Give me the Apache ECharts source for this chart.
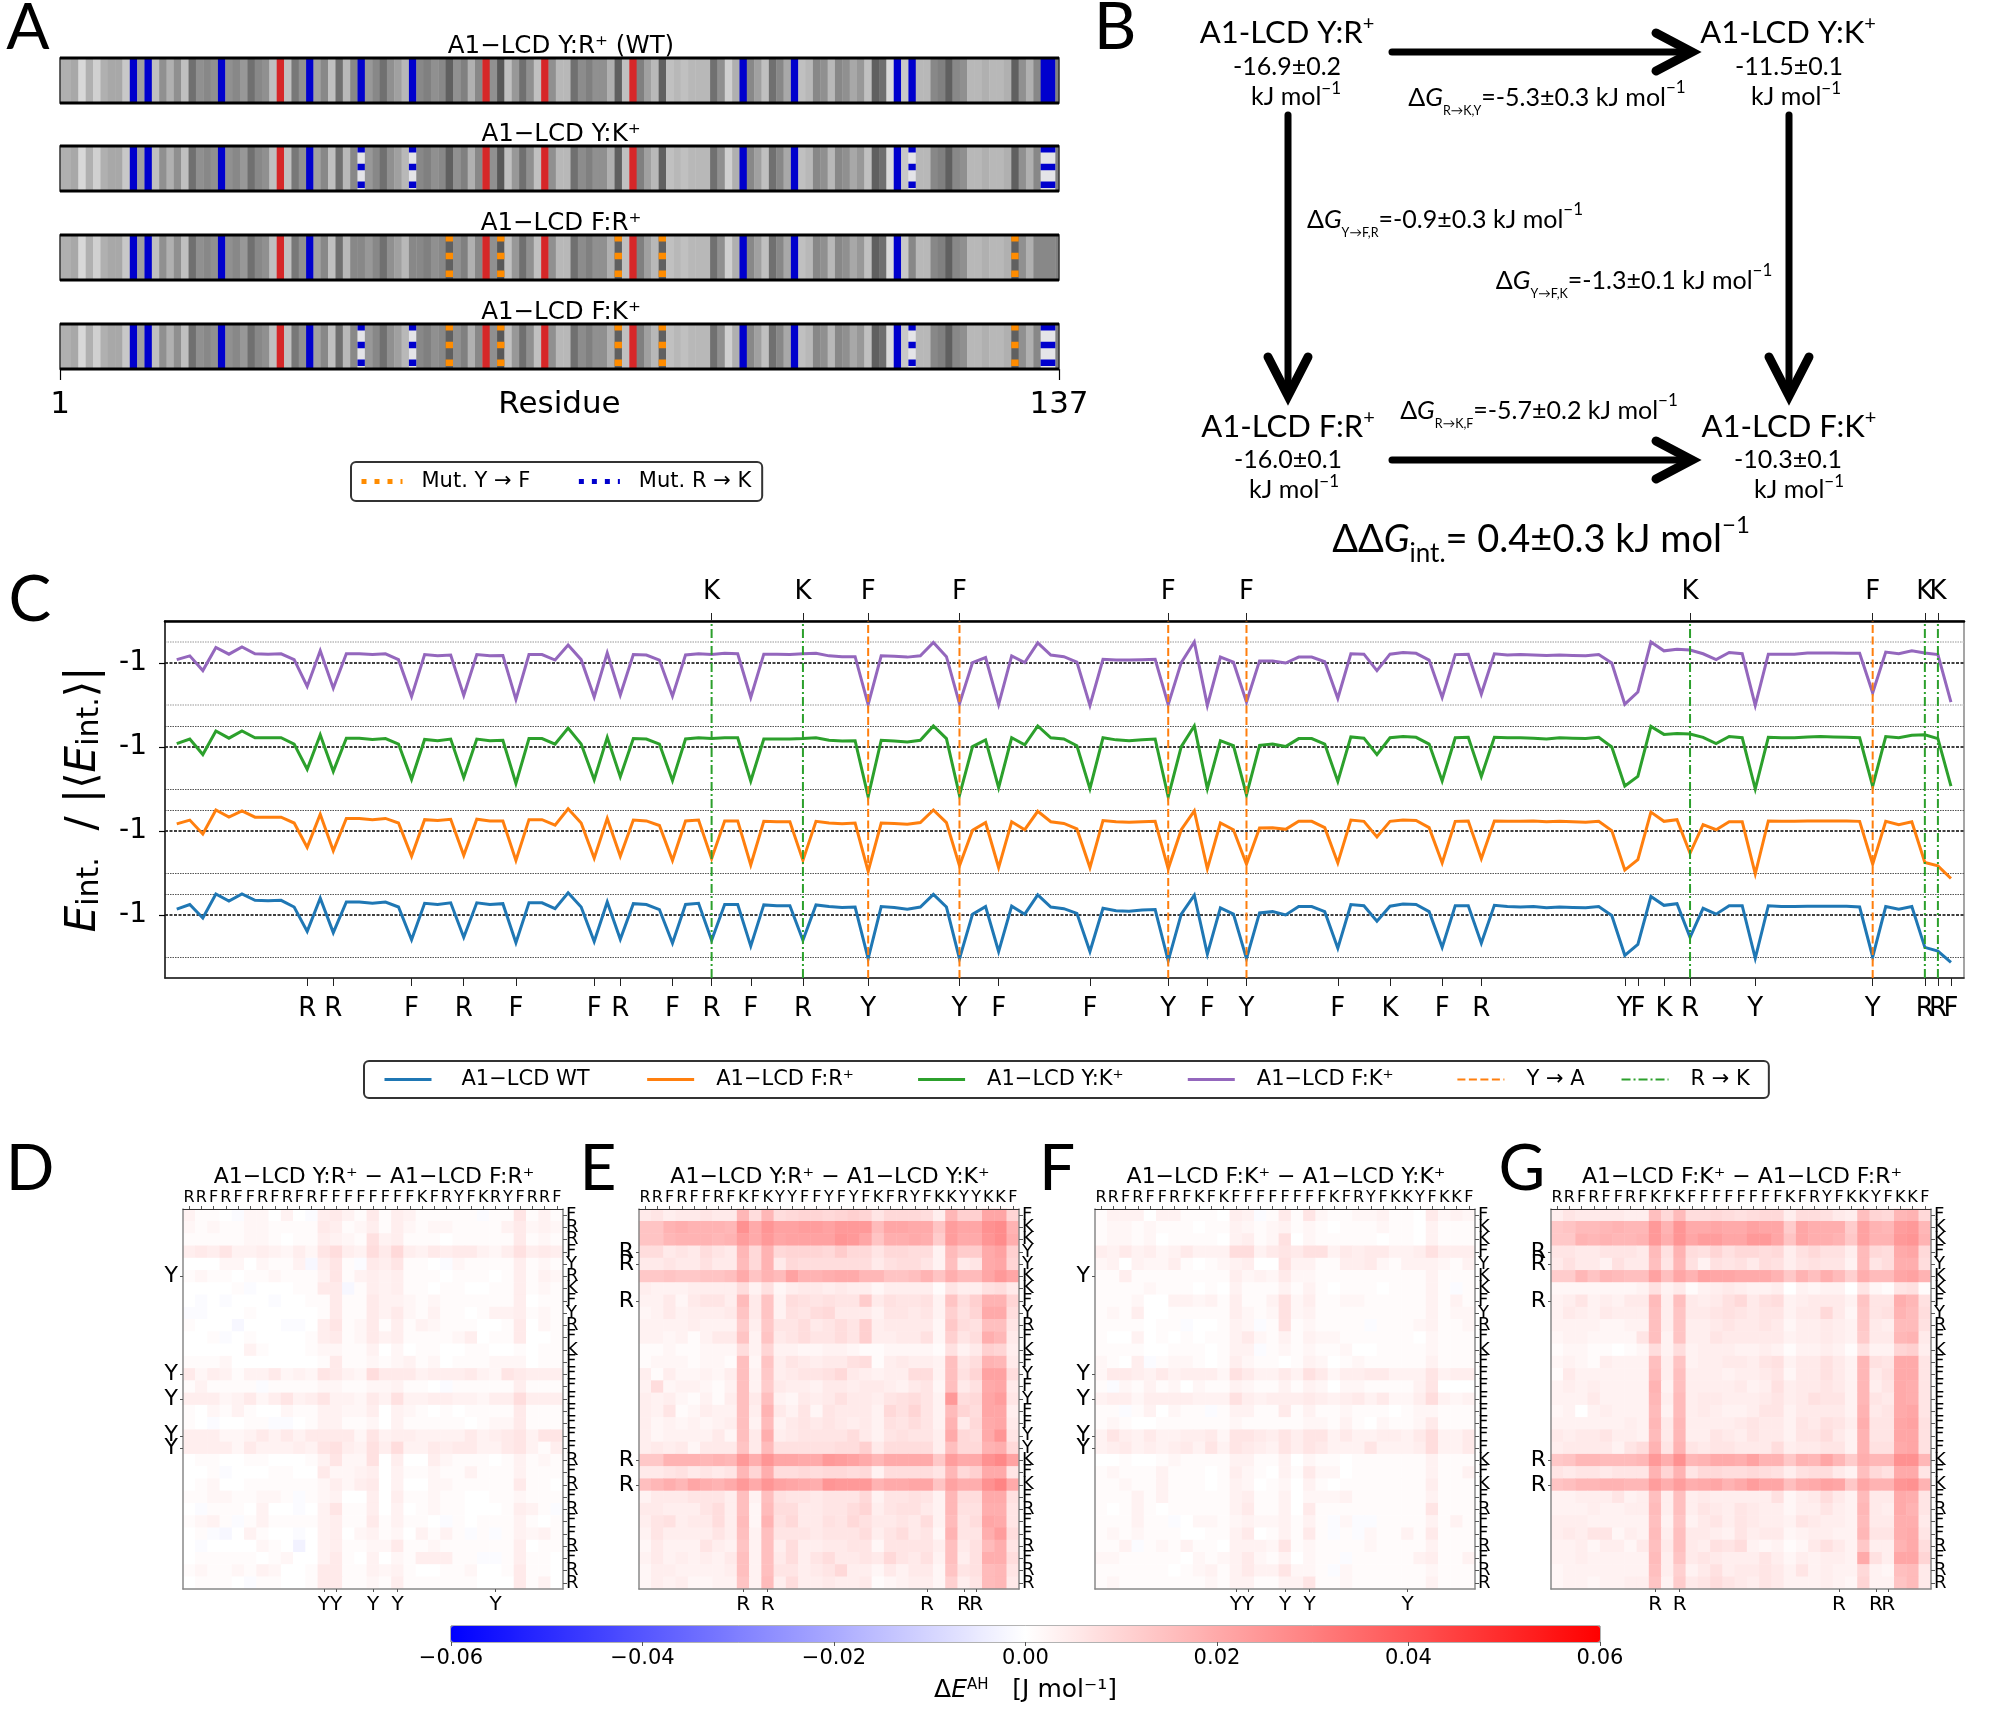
<!DOCTYPE html>
<html><head><meta charset="utf-8">
<script src="https://cdn.jsdelivr.net/npm/echarts@6/dist/echarts.min.js"></script>
<style>html,body{margin:0;padding:0;background:#fff}#c{width:2000px;height:1713px}</style>
</head><body><div id="c"></div>
<script>
// ---------- Panel A data ----------
const GRAY=[176,176,168,216,176,208,176,168,168,200,136,160,136,192,144,176,144,192,112,144,136,144,136,144,136,152,112,136,144,192,136,192,120,144,136,160,136,192,112,184,136,136,152,136,112,144,160,184,136,136,128,144,136,96,144,128,176,136,136,144,88,192,152,112,144,192,136,144,184,184,112,140,128,144,144,176,96,192,136,128,160,184,96,192,184,192,184,184,184,112,144,208,176,136,136,160,192,112,136,168,136,192,184,136,144,184,136,144,168,152,192,96,112,220,136,200,136,184,184,136,128,96,136,144,184,184,176,184,184,176,96,144,176,136,136,136,128];
const RESIDUE_TICKS=['1','137'];
const CHARGED_SITES=[10,12,22,34,41,48,93,100,114,116,134,135];
const ACIDIC_SITES=[30,58,66,78];
const SITES_RK=[41,48,116,134,135];
const SITES_YF=[53,60,76,82,130];
const ROW_TITLES=['A1−LCD Y:R⁺ (WT)','A1−LCD Y:K⁺','A1−LCD F:R⁺','A1−LCD F:K⁺'];

// ---------- Panel C data ----------
const E_WT=[-0.86,-0.75,-1.07,-0.50,-0.67,-0.50,-0.65,-0.66,-0.65,-0.81,-1.39,-0.60,-1.42,-0.69,-0.69,-0.72,-0.69,-0.81,-1.59,-0.72,-0.75,-0.71,-1.53,-0.71,-0.75,-0.73,-1.66,-0.71,-0.71,-0.85,-0.47,-0.81,-1.63,-0.69,-1.58,-0.73,-0.75,-0.87,-1.67,-0.75,-0.72,-1.60,-0.75,-0.75,-1.74,-0.76,-0.78,-0.78,-1.60,-0.76,-0.80,-0.82,-0.81,-2.04,-0.80,-0.82,-0.86,-0.81,-0.51,-0.81,-2.04,-0.98,-0.80,-1.87,-0.79,-0.98,-0.52,-0.81,-0.85,-0.96,-1.87,-0.84,-0.90,-0.91,-0.88,-0.87,-2.09,-0.98,-0.53,-1.93,-0.83,-0.98,-2.04,-0.95,-0.92,-1.00,-0.80,-0.80,-0.92,-1.79,-0.75,-0.78,-1.15,-0.79,-0.74,-0.75,-0.92,-1.77,-0.78,-0.78,-1.67,-0.77,-0.80,-0.81,-0.80,-0.83,-0.81,-0.82,-0.83,-0.80,-1.01,-1.96,-1.70,-0.56,-0.77,-0.73,-1.53,-0.84,-0.98,-0.78,-0.78,-2.03,-0.78,-0.80,-0.80,-0.79,-0.79,-0.79,-0.79,-0.81,-2.00,-0.80,-0.86,-0.80,-1.77,-1.86,-2.13];
const E_FR=[-0.83,-0.74,-1.07,-0.50,-0.67,-0.52,-0.67,-0.67,-0.67,-0.81,-1.39,-0.60,-1.47,-0.70,-0.70,-0.73,-0.70,-0.81,-1.60,-0.73,-0.75,-0.72,-1.58,-0.72,-0.76,-0.76,-1.70,-0.73,-0.73,-0.86,-0.47,-0.81,-1.65,-0.70,-1.60,-0.74,-0.76,-0.87,-1.70,-0.76,-0.74,-1.66,-0.76,-0.76,-1.81,-0.77,-0.78,-0.78,-1.70,-0.77,-0.81,-0.83,-0.81,-1.96,-0.81,-0.82,-0.84,-0.80,-0.50,-0.80,-1.83,-0.98,-0.80,-1.87,-0.78,-0.97,-0.53,-0.78,-0.82,-0.95,-1.87,-0.75,-0.78,-0.79,-0.78,-0.77,-1.90,-0.97,-0.52,-1.90,-0.81,-0.97,-1.79,-0.93,-0.92,-0.96,-0.77,-0.77,-0.92,-1.76,-0.74,-0.77,-1.14,-0.77,-0.74,-0.75,-0.92,-1.76,-0.77,-0.76,-1.66,-0.76,-0.77,-0.77,-0.76,-0.78,-0.77,-0.78,-0.79,-0.77,-0.99,-1.93,-1.68,-0.55,-0.77,-0.73,-1.53,-0.85,-0.97,-0.78,-0.78,-2.02,-0.76,-0.77,-0.77,-0.76,-0.76,-0.76,-0.76,-0.77,-1.79,-0.77,-0.85,-0.78,-1.75,-1.83,-2.13];
const E_YK=[-0.92,-0.81,-1.18,-0.62,-0.79,-0.62,-0.78,-0.78,-0.78,-0.93,-1.53,-0.71,-1.58,-0.79,-0.79,-0.82,-0.80,-0.93,-1.77,-0.82,-0.85,-0.81,-1.73,-0.81,-0.85,-0.84,-1.87,-0.80,-0.80,-0.93,-0.55,-0.93,-1.78,-0.77,-1.71,-0.80,-0.81,-0.93,-1.80,-0.81,-0.78,-0.80,-0.78,-0.78,-1.81,-0.81,-0.81,-0.81,-0.80,-0.78,-0.84,-0.86,-0.85,-2.18,-0.84,-0.86,-0.88,-0.84,-0.50,-0.80,-2.15,-0.99,-0.83,-1.97,-0.78,-0.95,-0.50,-0.78,-0.81,-0.97,-1.99,-0.78,-0.83,-0.85,-0.83,-0.81,-2.19,-0.99,-0.50,-1.99,-0.85,-0.97,-2.14,-0.96,-0.93,-0.99,-0.80,-0.80,-0.93,-1.82,-0.76,-0.79,-1.18,-0.78,-0.75,-0.77,-0.93,-1.81,-0.78,-0.77,-1.70,-0.77,-0.78,-0.78,-0.79,-0.81,-0.78,-0.79,-0.80,-0.77,-1.00,-1.93,-1.70,-0.51,-0.70,-0.68,-0.69,-0.77,-0.92,-0.75,-0.78,-2.00,-0.77,-0.78,-0.78,-0.76,-0.75,-0.76,-0.77,-0.78,-1.93,-0.75,-0.78,-0.72,-0.71,-0.80,-1.93];
const E_FK=[-0.92,-0.83,-1.18,-0.63,-0.79,-0.62,-0.78,-0.79,-0.78,-0.92,-1.56,-0.71,-1.60,-0.78,-0.78,-0.80,-0.78,-0.92,-1.80,-0.80,-0.83,-0.81,-1.77,-0.80,-0.83,-0.82,-1.87,-0.80,-0.80,-0.93,-0.57,-0.92,-1.81,-0.76,-1.76,-0.80,-0.81,-0.93,-1.79,-0.81,-0.78,-0.80,-0.77,-0.78,-1.82,-0.79,-0.79,-0.80,-0.78,-0.77,-0.83,-0.85,-0.85,-1.99,-0.83,-0.84,-0.86,-0.83,-0.51,-0.85,-1.97,-0.99,-0.87,-1.99,-0.83,-0.99,-0.52,-0.81,-0.85,-0.98,-2.01,-0.91,-0.93,-0.93,-0.92,-0.91,-1.99,-0.99,-0.50,-2.01,-0.86,-0.98,-1.93,-0.95,-0.95,-1.00,-0.86,-0.86,-0.97,-1.84,-0.78,-0.79,-1.18,-0.79,-0.75,-0.77,-0.93,-1.82,-0.80,-0.79,-1.74,-0.78,-0.81,-0.80,-0.81,-0.82,-0.81,-0.82,-0.83,-0.80,-1.00,-1.98,-1.69,-0.50,-0.71,-0.67,-0.69,-0.78,-0.92,-0.75,-0.78,-2.01,-0.79,-0.79,-0.79,-0.76,-0.76,-0.76,-0.77,-0.77,-1.71,-0.74,-0.78,-0.71,-0.76,-0.80,-1.93];
const SERIES_NAMES=['A1−LCD WT','A1−LCD F:R⁺','A1−LCD Y:K⁺','A1−LCD F:K⁺'];
const SITES_YA=[53,60,76,82,130];
const SITES_RK_C=[41,48,116,134,135];
const TICKS_BOTTOM={10:'R',12:'R',18:'F',22:'R',26:'F',32:'F',34:'R',38:'F',41:'R',44:'F',48:'R',53:'Y',60:'Y',63:'F',70:'F',76:'Y',79:'F',82:'Y',89:'F',93:'K',97:'F',100:'R',111:'Y',112:'F',114:'K',116:'R',121:'Y',130:'Y',134:'R',135:'R',136:'F'};
const TICKS_TOP={41:'K',48:'K',53:'F',60:'F',76:'F',82:'F',116:'K',130:'F',134:'K',135:'K'};

// ---------- Heatmap data (units of 0.001 J/mol) ----------
const HM_D=[
[3,1,1,0,-1,2,2,0,3,0,-1,4,5,3,1,5,1,4,3,1,1,1,1,1,-1,1,1,6,1,3,1],
[2,1,2,1,1,2,2,1,1,1,1,5,4,1,2,4,1,4,2,1,2,2,1,1,1,1,3,5,2,3,2],
[1,1,1,1,1,2,2,1,0,1,1,4,3,2,1,7,3,4,1,1,1,0,1,1,1,1,1,5,1,2,1],
[4,5,4,6,3,3,4,3,2,4,2,6,8,4,3,8,5,9,4,3,5,4,5,5,3,2,4,7,4,5,4],
[0,0,0,2,2,0,2,1,1,3,-2,4,6,1,-1,5,4,6,1,1,0,-1,2,1,1,1,1,4,1,2,1],
[1,2,1,1,0,1,1,2,1,1,1,3,6,1,3,4,3,4,1,1,1,0,1,1,1,0,1,4,1,3,2],
[0,0,0,0,1,-1,0,0,0,1,1,5,5,-2,1,4,3,4,1,1,0,1,1,0,0,1,1,4,1,2,1],
[0,-1,0,-1,0,0,0,-1,0,0,1,1,5,1,1,5,3,3,2,1,2,1,1,1,1,1,1,4,0,1,1],
[-1,-1,0,0,0,1,0,0,0,0,0,1,5,1,1,5,3,5,2,1,3,1,1,0,1,3,3,4,1,2,1],
[1,0,0,0,-2,0,0,0,-1,-1,0,4,6,1,2,5,1,4,1,3,2,1,1,1,0,0,1,5,0,2,1],
[0,0,1,-1,0,1,0,0,0,0,1,4,5,1,2,5,3,4,1,1,1,1,2,4,0,1,1,5,0,0,1],
[0,0,0,0,0,3,1,0,0,0,1,2,2,1,1,3,0,2,0,1,1,0,0,1,1,0,0,1,0,1,1],
[1,1,1,2,0,0,0,0,0,0,0,1,5,1,1,2,1,2,3,1,2,0,1,1,1,2,2,2,0,1,1],
[5,2,4,3,1,3,3,5,2,3,2,6,5,3,2,8,5,5,5,3,4,4,4,5,3,2,6,5,4,4,4],
[1,3,1,1,1,1,-1,1,1,1,1,2,2,1,1,2,2,3,1,1,0,-1,1,1,1,1,1,4,1,1,1],
[4,4,4,2,3,5,2,4,6,3,4,6,3,3,2,5,3,7,3,3,4,4,3,3,2,4,4,8,4,4,4],
[1,0,2,1,3,1,0,0,2,1,1,3,3,2,2,4,0,3,2,1,0,1,0,1,1,1,1,5,1,1,1],
[1,0,-1,0,0,1,1,-1,-1,0,1,3,3,1,1,2,0,3,1,1,1,1,1,0,1,2,2,5,1,1,1],
[4,4,4,2,2,3,5,3,5,3,5,5,5,5,2,6,3,4,4,3,3,3,3,5,3,4,5,6,3,6,6],
[4,4,4,4,2,5,3,3,3,4,3,6,7,4,3,7,4,8,3,3,5,4,5,5,3,3,5,6,3,1,4],
[0,1,1,0,0,1,1,0,0,0,1,3,6,2,2,7,0,4,0,0,4,2,1,1,1,0,1,3,1,2,1],
[0,0,1,-1,0,0,0,1,1,0,0,5,2,2,3,4,0,3,1,1,2,1,1,3,1,1,1,3,1,1,1],
[0,1,2,0,0,1,1,1,1,1,1,2,4,2,4,5,0,3,0,0,2,2,1,1,1,1,1,5,1,1,0],
[1,1,2,2,1,1,2,2,1,-1,1,2,3,0,0,4,0,4,1,1,2,1,1,0,0,1,1,2,1,1,1],
[0,-1,1,1,1,0,3,0,0,-1,0,3,6,1,1,4,0,3,0,1,2,1,1,0,0,0,1,4,3,1,-1],
[1,2,3,1,-1,1,3,1,1,1,1,3,4,1,1,5,1,3,1,1,0,-1,1,0,1,1,1,3,1,0,1],
[0,1,-1,-2,0,3,1,0,0,-1,0,3,4,0,2,3,1,2,0,3,1,3,1,-1,1,-1,1,3,2,3,1],
[0,-1,0,0,0,0,2,1,0,-3,0,3,4,1,1,2,2,5,1,1,2,1,1,1,1,1,1,4,0,1,1],
[0,1,1,1,1,1,0,1,2,0,0,3,5,1,0,3,0,2,1,4,4,4,1,1,-1,-1,1,4,1,1,0],
[1,2,1,1,2,1,3,2,0,0,1,5,5,1,1,3,2,3,1,0,0,1,1,2,0,0,1,5,1,1,0],
[0,1,1,1,0,-1,1,1,0,0,1,5,5,1,1,2,1,4,1,1,1,1,1,1,0,0,0,5,1,3,0]];
const HM_E=[
[5,6,4,5,5,6,5,5,17,8,17,8,9,10,10,9,10,11,10,6,9,9,9,8,4,17,11,11,21,21,10],
[14,14,18,19,18,18,18,17,26,20,25,22,22,23,23,22,24,24,24,16,21,21,20,20,14,23,21,21,26,27,18],
[14,14,17,18,18,18,17,18,23,20,24,21,22,22,22,22,25,24,21,14,19,19,20,19,12,23,20,20,25,27,19],
[8,8,5,6,5,8,6,5,17,9,18,9,10,10,10,9,12,9,9,6,9,9,8,8,3,16,12,12,20,22,11],
[5,5,6,5,5,7,5,5,16,9,18,5,9,8,8,8,8,8,8,5,7,8,8,6,3,15,5,6,20,21,10],
[13,13,14,13,13,14,14,15,20,14,18,16,22,18,18,19,20,20,17,17,14,14,15,18,14,19,16,16,21,24,21],
[4,3,3,3,4,4,4,4,8,3,7,2,4,5,5,4,5,4,4,2,4,4,4,4,1,6,4,4,7,8,5],
[3,3,5,2,5,6,6,4,16,5,14,3,8,7,6,7,6,6,12,5,7,6,6,7,3,14,8,11,18,18,10],
[2,3,5,3,4,4,4,5,14,5,14,3,7,6,8,9,5,5,5,3,6,6,5,6,3,11,7,10,20,20,8],
[3,3,3,3,4,3,3,3,12,4,13,6,6,8,5,6,8,6,11,4,5,5,5,5,2,13,8,7,15,15,6],
[3,3,2,3,1,3,5,5,14,3,14,5,6,8,6,6,8,6,11,4,4,5,5,7,2,11,6,8,19,17,5],
[1,1,2,1,1,2,2,2,8,3,10,3,3,2,2,3,3,2,1,1,2,2,2,2,1,7,3,5,11,10,4],
[1,2,2,2,1,2,2,1,15,2,14,4,6,5,4,5,5,7,8,1,4,5,4,4,3,15,6,8,18,17,5],
[4,1,4,2,2,3,2,4,15,3,13,4,5,6,6,7,9,5,4,3,4,4,8,8,3,15,7,10,22,22,8],
[3,8,2,3,3,2,1,3,15,3,12,5,4,4,3,5,5,4,5,5,4,3,5,6,2,15,5,7,20,21,5],
[4,3,4,2,1,3,1,4,15,5,15,3,2,5,4,5,7,5,5,4,6,7,8,6,3,24,8,9,21,23,6],
[4,3,6,1,2,4,3,3,15,4,18,5,3,6,2,6,5,5,5,3,9,7,10,6,3,16,10,8,21,21,4],
[4,2,3,2,3,2,3,4,15,3,16,3,5,6,5,6,5,4,5,3,7,6,8,6,3,18,5,9,20,21,5],
[4,2,3,3,3,3,5,2,15,5,19,4,5,6,6,6,6,8,5,3,6,7,6,6,4,20,9,8,20,25,6],
[4,5,4,5,2,5,5,5,14,5,16,7,7,7,7,7,8,8,11,5,8,8,8,8,4,15,9,9,18,19,9],
[13,13,18,18,18,17,18,17,24,19,25,21,21,20,20,24,23,22,20,17,20,20,20,20,13,23,20,20,26,28,22],
[5,5,6,7,5,6,5,6,17,10,19,8,8,9,8,9,9,8,9,3,8,8,8,8,6,17,9,11,20,20,6],
[15,17,19,17,21,19,18,20,24,20,25,22,21,20,19,25,24,24,24,18,20,20,21,21,14,22,19,19,26,29,20],
[3,5,5,5,6,6,6,4,15,3,15,7,6,6,5,6,6,6,9,3,6,6,7,6,3,17,8,8,20,20,7],
[5,5,4,4,4,6,8,4,15,2,16,8,8,5,5,6,6,8,10,4,6,7,7,5,3,17,7,7,19,19,6],
[4,6,7,4,5,5,8,4,16,2,18,7,9,5,5,7,6,9,7,5,5,6,5,8,3,16,6,8,21,20,6],
[3,6,4,4,4,4,6,4,15,3,15,6,6,6,5,6,6,6,8,4,6,8,5,6,2,18,6,6,19,23,8],
[2,5,3,3,3,6,4,3,14,3,15,4,8,4,4,5,5,6,6,2,6,6,6,6,4,15,5,7,16,19,6],
[3,5,3,4,3,4,3,5,15,3,15,5,8,4,6,8,5,5,6,5,9,6,5,7,3,15,4,7,19,19,8],
[2,4,4,3,3,3,3,4,15,3,15,6,6,4,5,6,9,4,4,2,5,3,5,5,2,14,6,7,16,17,6],
[2,4,3,4,2,2,3,3,14,3,16,4,8,4,4,5,4,4,5,1,2,3,4,4,2,11,4,6,16,17,5]];
const HM_F=[
[1,3,3,3,0,3,3,1,1,1,0,4,3,-1,1,5,1,6,2,1,1,2,2,3,1,1,0,5,2,3,2],
[1,2,2,1,2,1,1,1,0,1,1,3,2,1,2,3,1,2,1,0,1,1,1,2,1,1,0,3,1,1,1],
[1,2,2,1,2,0,1,1,1,1,0,3,4,1,2,7,0,2,1,1,1,1,1,0,1,1,0,3,1,1,1],
[4,3,5,3,4,2,3,5,3,3,3,8,8,3,5,6,5,7,7,3,5,4,5,5,3,3,4,7,4,4,4],
[2,3,0,3,2,2,4,1,0,1,2,3,4,0,0,7,3,3,1,1,4,4,5,2,1,3,3,3,2,1,3],
[1,1,4,1,1,1,1,1,1,1,1,4,2,3,2,5,2,2,1,1,1,1,1,1,1,1,1,3,1,1,1],
[1,1,1,1,2,1,1,1,0,1,0,3,1,1,1,3,1,3,1,0,1,1,1,0,1,1,1,3,1,-1,1],
[1,1,1,2,0,0,3,3,2,3,1,4,1,1,3,7,2,4,1,1,2,2,1,1,1,1,1,3,1,3,1],
[1,2,1,4,0,0,1,1,1,1,1,4,2,1,2,7,2,3,1,1,1,1,1,1,1,1,1,3,1,2,2],
[1,1,1,1,0,1,1,-1,0,0,1,3,2,-1,1,7,1,2,1,1,1,1,-1,1,1,1,2,3,1,1,2],
[1,0,0,3,0,1,0,1,0,1,1,3,5,2,1,3,1,3,2,2,1,1,1,1,1,1,0,2,1,1,1],
[1,1,1,1,0,0,1,1,1,0,1,3,3,-1,1,2,1,2,1,1,2,0,0,1,1,1,1,2,1,1,1],
[2,1,0,4,-1,1,2,2,1,0,1,4,2,1,1,0,1,3,2,0,1,2,1,1,1,1,1,3,1,1,1],
[2,5,5,4,3,5,3,4,4,4,2,7,5,3,3,5,3,7,5,2,4,4,5,5,3,3,3,6,3,4,4],
[1,-1,2,1,3,1,2,0,2,1,1,3,2,1,1,3,1,3,2,0,2,2,1,1,1,1,3,6,0,0,0],
[3,4,4,2,4,4,4,4,3,3,3,7,4,3,4,4,4,5,4,3,4,5,3,5,2,2,4,8,3,2,3],
[1,1,-1,1,3,0,2,1,1,-1,1,3,3,1,1,5,1,3,1,1,2,1,1,1,0,1,2,2,1,1,1],
[1,2,1,0,0,1,1,1,1,1,1,2,1,1,1,1,1,2,2,1,3,1,0,2,1,1,2,5,1,1,1],
[3,6,4,3,5,3,3,4,4,5,2,6,6,5,4,6,4,6,6,3,5,3,3,4,4,3,5,8,3,3,5],
[3,4,5,3,4,3,4,5,3,6,3,6,5,4,3,6,4,6,5,3,3,3,6,3,3,3,4,8,3,3,5],
[0,0,1,0,0,1,2,1,1,1,1,3,3,1,1,3,0,2,1,1,0,1,1,1,1,1,1,3,1,1,1],
[1,2,1,1,1,3,1,1,1,0,1,4,2,1,0,3,1,5,2,2,0,1,1,1,1,1,1,3,1,1,3],
[1,1,2,1,1,3,1,1,1,0,1,3,2,0,1,2,0,3,1,0,1,1,1,1,1,1,1,4,1,1,1],
[1,1,1,3,1,3,1,1,1,1,1,3,4,1,1,3,0,2,2,2,3,1,1,1,1,1,1,3,1,1,1],
[1,0,1,3,1,0,1,1,1,1,1,3,5,1,1,3,0,5,1,1,1,1,1,1,1,1,1,6,1,1,1],
[1,1,1,3,1,1,-1,0,2,2,1,2,3,2,2,3,1,3,1,-1,2,-1,-1,1,1,1,1,3,1,3,1],
[1,2,1,2,1,1,1,0,0,1,1,3,5,0,1,3,1,5,1,-1,1,-1,2,1,1,3,1,5,1,1,1],
[1,1,3,-1,1,2,1,3,1,1,0,3,3,3,2,6,1,2,1,1,1,1,2,1,1,1,1,3,1,1,1],
[2,2,1,1,1,1,1,0,2,1,2,3,5,2,1,3,0,2,1,1,-1,1,1,1,1,1,3,4,1,1,3],
[1,1,1,1,1,1,0,1,2,3,1,3,5,3,3,6,2,2,1,-1,2,1,1,1,1,1,1,2,1,1,1],
[1,2,1,1,1,1,1,1,1,2,1,3,3,1,1,3,3,6,1,1,2,1,1,1,1,1,1,3,1,1,1]];
const HM_G=[
[4,6,5,5,5,5,4,4,15,9,16,8,8,9,8,7,8,9,9,4,8,8,7,5,4,15,10,9,17,18,9],
[13,14,16,16,17,18,17,17,24,18,25,20,20,21,20,20,22,21,21,12,21,19,19,19,12,22,18,17,23,24,17],
[13,13,18,17,18,17,17,18,24,19,25,21,23,23,21,21,24,24,21,14,21,19,19,18,13,22,18,18,24,25,18],
[6,6,5,5,6,6,6,5,16,7,18,8,7,10,7,9,9,8,9,4,7,9,7,7,4,16,9,8,20,21,9],
[5,7,5,5,3,7,5,5,15,6,17,7,3,7,6,7,5,8,7,4,6,7,6,6,3,16,6,8,19,19,8],
[12,12,17,14,17,16,15,15,22,15,21,18,22,21,21,20,20,20,18,13,18,15,19,16,11,19,16,16,21,22,18],
[2,2,2,2,2,2,2,3,7,3,5,1,3,4,5,4,3,3,4,0,3,2,3,3,0,6,2,1,6,7,1],
[3,4,6,3,4,3,5,5,16,4,15,5,4,5,7,9,5,7,8,3,4,5,5,5,3,14,6,6,19,17,7],
[3,5,4,3,5,4,4,4,15,4,14,5,5,6,7,6,5,6,6,3,5,5,9,5,2,13,6,7,18,16,8],
[3,3,3,3,2,2,3,3,15,4,14,4,4,5,6,5,5,6,5,2,4,4,5,4,3,13,5,4,16,16,7],
[2,3,3,2,2,2,2,6,15,3,14,4,4,6,5,5,5,5,5,3,4,4,5,4,3,12,5,5,17,18,5],
[1,2,2,1,1,0,1,2,8,3,8,3,4,4,4,3,3,4,3,1,3,3,4,3,1,7,3,3,10,11,4],
[2,3,2,1,4,3,3,3,15,4,14,3,4,4,5,5,4,6,7,3,5,5,7,5,3,17,7,6,20,20,6],
[1,5,3,3,3,3,3,3,16,4,15,4,4,4,3,4,4,5,6,2,5,5,7,5,3,17,5,7,20,20,6],
[3,4,3,4,3,3,3,3,18,3,15,4,4,4,4,5,3,4,7,4,5,5,6,5,3,17,4,6,20,19,6],
[3,3,3,5,3,3,3,3,17,4,16,4,5,5,4,4,4,5,6,4,5,7,6,6,3,17,6,5,20,19,6],
[2,3,0,3,4,3,3,3,16,3,16,4,5,4,3,3,4,6,6,3,5,5,5,5,3,18,5,6,20,21,6],
[3,3,3,3,3,3,4,3,17,5,17,4,4,4,4,5,6,5,5,3,6,5,7,6,4,19,6,6,21,22,7],
[5,4,5,5,6,4,4,3,16,5,17,4,4,6,5,4,6,5,5,3,6,6,8,5,3,18,6,6,21,21,7],
[4,5,5,5,5,3,6,8,18,6,18,6,5,6,6,5,5,5,8,4,5,5,6,6,3,18,7,7,20,21,7],
[13,14,17,17,16,16,16,17,24,19,26,17,18,20,20,19,22,18,18,13,18,17,21,17,12,19,17,17,26,26,17],
[6,5,6,6,5,6,6,6,18,10,18,6,9,9,8,8,9,8,7,4,7,8,8,5,3,15,9,7,20,20,6],
[14,15,17,17,18,18,17,17,23,19,23,19,20,21,18,20,23,21,21,15,19,20,22,21,13,21,18,18,25,26,18],
[3,3,4,4,4,6,3,4,15,4,15,4,5,4,4,4,4,4,7,2,4,5,8,5,3,16,5,5,20,19,6],
[3,3,3,4,3,3,4,4,16,4,15,4,6,5,4,6,5,4,4,2,4,4,6,4,3,17,5,4,20,18,6],
[4,4,4,3,3,3,3,3,15,3,14,3,5,6,4,6,5,4,4,3,6,5,4,4,3,16,5,5,19,19,5],
[4,5,4,6,6,2,4,3,16,4,15,5,5,4,3,6,4,5,5,2,3,4,4,3,3,17,6,6,19,20,6],
[3,3,4,2,4,4,2,5,15,5,15,5,4,7,6,8,3,2,3,1,2,5,7,5,3,13,4,4,18,20,8],
[3,3,4,3,3,3,3,3,16,4,14,5,6,5,4,4,4,6,4,2,4,3,4,4,3,20,7,4,21,21,10],
[2,3,3,3,3,3,3,3,15,4,11,3,5,7,4,5,5,6,5,3,6,3,4,3,3,9,3,2,15,16,5],
[2,3,3,2,3,3,4,4,14,3,12,5,6,8,6,5,4,6,5,3,3,3,4,3,2,10,3,3,14,16,5]];
const HM_TITLES=['A1−LCD Y:R⁺ − A1−LCD F:R⁺','A1−LCD Y:R⁺ − A1−LCD Y:K⁺','A1−LCD F:K⁺ − A1−LCD Y:K⁺','A1−LCD F:K⁺ − A1−LCD F:R⁺'];
const HM_TOP=['RRFRFFRFRFRFFFFFFFFKFRYFKRYFRRF','RRFRFFRFKFKYYFFYFYFKFRYFKKYYKKF','RRFRFFRFKFKFFFFFFFFKFRYFKKYFKKF','RRFRFFRFKFKFFFFFFFFKFRYFKKYFKKF'];
const HM_RIGHT=['FRRFYRKFYRFKFFFFFFFFRFRFRFFRFRR','FKKYYKKFYRFKFYFYFFYYKFKFRFFRFRR','FKKFYKKFYRFKFFFFFFFFKFKFRFFRFRR','FKKFYKKFYRFKFFFFFFFFKFKFRFFRFRR'];
const SPARSE_Y={rows:[5,13,15,18,19],cols:[11,12,15,17,25],label:'Y'};
const SPARSE_R={rows:[3,4,7,20,22],cols:[8,10,23,26,27],label:'R'};
const CBAR_MIN=-0.06, CBAR_MAX=0.06, CBAR_STEP=0.02;

// ---------- Styling / layout ----------
const DV='DejaVu Sans', LT='Lato';
const C_BLUE='#0000cd', C_RED='#d62728', C_ORANGE='#ff8c00';
const TAB=['#1f77b4','#ff7f0e','#2ca02c','#9467bd'];
const ROW_TOPS=[58,146,235,324], ROW_H=45, ROW_L=60, ROW_W=999;
const HM_LEFTS=[183,639,1095,1551], HM_TOP_PX=1209, HM_W=380, HM_H=380;
const hex=v=>`rgb(${v},${v},${v})`;

const grid=[],xAxis=[],yAxis=[],series=[],title=[];

// Panel A
function rowColors(k){
  return GRAY.map((g,i)=>{
    if(ACIDIC_SITES.includes(i))return C_RED;
    const rk=SITES_RK.includes(i);
    if(rk&&(k===1||k===3))return '#e4e4e8';
    if(rk&&k===2)return hex(136);
    if(CHARGED_SITES.includes(i))return C_BLUE;
    return hex(g);
  });
}
ROW_TOPS.forEach((top,k)=>{
  const g=grid.length;
  grid.push({left:ROW_L,top,width:ROW_W,height:ROW_H});
  const last=k===3;
  xAxis.push({gridIndex:g,type:'value',min:0,max:136,position:'bottom',
    axisLine:{show:false,onZero:false},splitLine:{show:false},
    axisTick:{show:last,length:11,lineStyle:{color:'#000',width:1.2},customValues:[0,136]},
    axisLabel:{show:last,customValues:[0,136],showMinLabel:true,showMaxLabel:true,formatter:v=>v===0?RESIDUE_TICKS[0]:RESIDUE_TICKS[1],fontSize:31,fontFamily:DV,color:'#000',margin:20},
    name:last?'Residue':'',nameLocation:'middle',nameGap:20,nameMoveOverlap:false,nameTextStyle:{fontSize:31,fontFamily:DV,color:'#000'}});
  yAxis.push({gridIndex:g,type:'value',min:0,max:1,show:false});
  const colors=rowColors(k);
  series.push({type:'custom',xAxisIndex:g,yAxisIndex:g,silent:true,z:2,
    data:GRAY.map((v,i)=>[i,v]),encode:{x:0,y:1},
    renderItem(params,api){
      const i=api.value(0);
      const p0=api.coord([i-0.5,1]),p1=api.coord([i+0.5,0]);
      const shape=echarts.graphic.clipRectByRect({x:p0[0],y:p0[1],width:p1[0]-p0[0]+0.4,height:p1[1]-p0[1]},params.coordSys);
      return shape&&{type:'rect',shape,style:{fill:colors[i]}};
    }});
  const mk=(sites,name,color)=>series.push({type:'line',name,xAxisIndex:g,yAxisIndex:g,symbol:'none',silent:true,z:3,
    data:sites.flatMap(x=>[[x,1],[x,0],['-','-']]),connectNulls:false,
    lineStyle:{color,width:7.35,type:[6.5,11.2],cap:'butt'},itemStyle:{color}});
  if(k>=2)mk(SITES_YF,'Mut. Y → F',C_ORANGE);
  if(k===1||k===3)mk(SITES_RK,'Mut. R → K',C_BLUE);
  if(k===0){ // keep legend entries available on first row
    series.push({type:'line',name:'Mut. Y → F',xAxisIndex:g,yAxisIndex:g,symbol:'none',data:[],lineStyle:{color:C_ORANGE,width:5,type:[5,8]},itemStyle:{color:C_ORANGE}});
    series.push({type:'line',name:'Mut. R → K',xAxisIndex:g,yAxisIndex:g,symbol:'none',data:[],lineStyle:{color:C_BLUE,width:5,type:[5,8]},itemStyle:{color:C_BLUE}});
  }
  series.push({type:'custom',xAxisIndex:g,yAxisIndex:g,silent:true,z:5,clip:false,data:[[0,0]],encode:{x:0,y:1},
    renderItem(params){
      const c=params.coordSys;
      return {type:'group',children:[
        {type:'rect',shape:{x:c.x,y:c.y,width:c.width,height:c.height},style:{fill:'none',stroke:'#333',lineWidth:1.5}},
        {type:'line',shape:{x1:c.x,y1:c.y,x2:c.x+c.width,y2:c.y},style:{stroke:'#000',lineWidth:3}},
        {type:'line',shape:{x1:c.x,y1:c.y+c.height,x2:c.x+c.width,y2:c.y+c.height},style:{stroke:'#000',lineWidth:3}}]};
    }});
  title.push({text:ROW_TITLES[k],left:556,top:top-16.5,textAlign:'center',textVerticalAlign:'middle',textStyle:{fontSize:24.5,fontWeight:'normal',fontFamily:DV,color:'#000'}});
});

// Panel C
const gC=grid.length;
grid.push({left:165,top:621,width:1799,height:357,show:true,borderColor:'#888',borderWidth:1.5,backgroundColor:'transparent'});
const xB=xAxis.length;
const tickKeys=o=>Object.keys(o).map(Number);
const AXIS_END=137; // empty end label keeps crowded neighbours from being culled
xAxis.push({gridIndex:gC,type:'value',min:-0.9,max:AXIS_END,position:'bottom',splitLine:{show:false},z:4,
  axisLine:{show:true,onZero:false,lineStyle:{color:'#222',width:1.5}},
  axisTick:{show:true,length:8,customValues:tickKeys(TICKS_BOTTOM),lineStyle:{color:'#222',width:1}},
  axisLabel:{customValues:[...tickKeys(TICKS_BOTTOM),AXIS_END],formatter:v=>TICKS_BOTTOM[v]||'',fontSize:26,fontFamily:DV,color:'#000',margin:18}});
xAxis.push({gridIndex:gC,type:'value',min:-0.9,max:AXIS_END,position:'top',splitLine:{show:false},z:4,
  axisLine:{show:true,onZero:false,lineStyle:{color:'#000',width:2.5}},
  axisTick:{show:true,length:8,customValues:tickKeys(TICKS_TOP),lineStyle:{color:'#222',width:1}},
  axisLabel:{customValues:[...tickKeys(TICKS_TOP),AXIS_END],formatter:v=>TICKS_TOP[v]||'',fontSize:26,fontFamily:DV,color:'#000',margin:16}});
const yC=yAxis.length;
const Y_TICKS=[-1,1,3,5];
yAxis.push({gridIndex:gC,type:'value',min:-2.5,max:6,position:'left',splitLine:{show:false},z:4,
  axisLine:{show:true,onZero:false,lineStyle:{color:'#222',width:1.5}},
  axisTick:{show:true,length:6,customValues:Y_TICKS,lineStyle:{color:'#000',width:1.2}},
  axisLabel:{customValues:Y_TICKS,showMinLabel:true,showMaxLabel:true,formatter:()=>'-1',fontSize:28,fontFamily:DV,color:'#000',margin:18},
  name:'{e|E}{s|int.}  / |⟨{e|E}{s|int.}⟩|',nameLocation:'middle',nameRotate:90,nameGap:60,nameMoveOverlap:false,
  nameTextStyle:{fontSize:42,fontFamily:DV,color:'#000',rich:{
    e:{fontSize:42,fontStyle:'italic',fontFamily:DV,color:'#000'},
    s:{fontSize:30,fontFamily:DV,color:'#000',verticalAlign:'bottom'}}}});
const levelLines=[];
Y_TICKS.forEach((v,k)=>{
  levelLines.push({yAxis:v,lineStyle:{color:'#000',width:1.5,type:[3,1.5]}});
  const c=k===3?'#bbb':'#555', w=k===3?1.5:1;
  levelLines.push({yAxis:v+0.5,lineStyle:{color:c,width:w,type:[1.5,1]}});
  levelLines.push({yAxis:v-1,lineStyle:{color:c,width:w,type:[1.5,1]}});
});
[E_WT,E_FR,E_YK,E_FK].forEach((vals,k)=>{
  series.push({type:'line',name:SERIES_NAMES[k],xAxisIndex:xB,yAxisIndex:yC,symbol:'none',z:3,silent:true,
    data:vals.map((v,i)=>[i,v+2*k]),lineStyle:{color:TAB[k],width:3,join:'miter'},itemStyle:{color:TAB[k]},
    markLine:k===0?{silent:true,symbol:'none',z:1,label:{show:false},precision:4,animation:false,data:levelLines}:undefined});
});
const vline=(sites,name,color,type)=>series.push({type:'line',name,xAxisIndex:xB,yAxisIndex:yC,symbol:'none',z:4,silent:true,
  data:sites.flatMap(x=>[[x,-2.5],[x,6],['-','-']]),lineStyle:{color,width:2,type},itemStyle:{color}});
vline(SITES_YA,'Y → A','#ff7f0e',[8,3.5]);
vline(SITES_RK_C,'R → K','#2ca02c',[9,3,2,3]);

// Heatmaps
const hmSeries=[];
const HM_MIN=-0.5, HM_MAX=30.5;
[HM_D,HM_E,HM_F,HM_G].forEach((m,k)=>{
  const g=grid.length,left=HM_LEFTS[k],sparse=k%2===0?SPARSE_Y:SPARSE_R;
  const sparseFmt=v=>Number.isInteger(v)?sparse.label:'';
  grid.push({left,top:HM_TOP_PX,width:HM_W,height:HM_H});
  const xi=xAxis.length;
  xAxis.push({gridIndex:g,type:'category',position:'top',data:HM_TOP[k].split('').map((l,i)=>i+':'+l),z:4,
    axisLine:{show:true,onZero:false,lineStyle:{color:'#333',width:1.2}},
    axisTick:{show:true,alignWithLabel:true,length:3,lineStyle:{color:'#555'}},splitLine:{show:false},
    axisLabel:{interval:0,showMinLabel:true,showMaxLabel:true,formatter:s=>s.split(':')[1],fontSize:16,fontFamily:DV,color:'#000',margin:3}});
  xAxis.push({gridIndex:g,type:'value',position:'bottom',min:HM_MIN,max:HM_MAX,z:4,splitLine:{show:false},
    axisLine:{show:true,onZero:false,lineStyle:{color:'#888',width:1.5}},
    axisTick:{show:true,length:3,customValues:sparse.cols,lineStyle:{color:'#555'}},
    axisLabel:{customValues:[HM_MIN,...sparse.cols,HM_MAX],formatter:sparseFmt,fontSize:20,fontFamily:DV,color:'#000',margin:6}});
  const yi=yAxis.length;
  yAxis.push({gridIndex:g,type:'category',position:'right',inverse:true,data:HM_RIGHT[k].split('').map((l,i)=>i+':'+l),z:4,
    axisLine:{show:true,onZero:false,lineStyle:{color:'#888',width:1.5}},
    axisTick:{show:true,alignWithLabel:true,length:4,lineStyle:{color:'#555'}},splitLine:{show:false},
    axisLabel:{interval:0,showMinLabel:true,showMaxLabel:true,formatter:s=>s.split(':')[1],fontSize:18,fontFamily:DV,color:'#000',margin:3}});
  yAxis.push({gridIndex:g,type:'value',position:'left',inverse:true,min:HM_MIN,max:HM_MAX,z:4,splitLine:{show:false},
    axisLine:{show:true,onZero:false,lineStyle:{color:'#888',width:1.5}},
    axisTick:{show:true,length:3,customValues:sparse.rows,lineStyle:{color:'#555'}},
    axisLabel:{customValues:[HM_MIN,...sparse.rows,HM_MAX],formatter:sparseFmt,fontSize:22,fontFamily:DV,color:'#000',margin:5}});
  hmSeries.push(series.length);
  series.push({type:'heatmap',xAxisIndex:xi,yAxisIndex:yi,silent:true,progressive:0,
    data:m.flatMap((row,r)=>row.map((v,c)=>[c,r,v/1000]))});
  title.push({text:HM_TITLES[k],left:left+186,top:1172,textAlign:'center',textVerticalAlign:'middle',textStyle:{fontSize:22,fontWeight:'normal',fontFamily:DV,color:'#000'}});
});

// Colour bar axis
const gB=grid.length;
grid.push({left:451,top:1626,width:1149,height:16,show:true,borderColor:'#666',borderWidth:1,backgroundColor:'transparent'});
xAxis.push({gridIndex:gB,type:'value',min:CBAR_MIN,max:CBAR_MAX,interval:CBAR_STEP,splitLine:{show:false},
  axisLine:{show:false,onZero:false},axisTick:{show:true,length:4,lineStyle:{color:'#555'}},
  axisLabel:{showMinLabel:true,showMaxLabel:true,formatter:v=>(Math.abs(v)<1e-9?0:v).toFixed(2).replace('-','−'),fontSize:21,fontFamily:DV,color:'#000',margin:6},
  name:'{d|Δ}{e|E}{u|AH}{d|   [J mol⁻¹]}',nameLocation:'middle',nameGap:36,nameMoveOverlap:false,
  nameTextStyle:{rich:{d:{fontSize:25,fontFamily:DV,color:'#000'},e:{fontSize:25,fontFamily:DV,fontStyle:'italic',color:'#000'},u:{fontSize:15,fontFamily:DV,color:'#000',verticalAlign:'top'}}}});
yAxis.push({gridIndex:gB,type:'value',min:0,max:1,show:false});

// Graphic: letters and thermodynamic cycle
const T=(x,y,text,size,extra)=>({type:'text',x,y,silent:true,z:10,style:Object.assign({text,fontSize:size,fontFamily:LT,fill:'#000',align:'center',verticalAlign:'middle'},extra||{})});
const supSub={
  s:{fontSize:12.5,fontFamily:LT,fill:'#000',color:'#000',verticalAlign:'bottom',lineHeight:38},
  i:{fontSize:26,fontFamily:LT,fontStyle:'italic',color:'#000',lineHeight:34},
  n:{fontSize:25,fontFamily:LT,color:'#000',lineHeight:34},
  u:{fontSize:17,fontFamily:LT,color:'#000',verticalAlign:'top',lineHeight:34}
};
const rT=(x,y,text)=>T(x,y,text,25,{rich:supSub});
const big={n:{fontSize:31,fontFamily:LT,color:'#000',lineHeight:38},u:{fontSize:20,fontFamily:LT,color:'#000',verticalAlign:'top',lineHeight:38}};
const nameT=(x,y,t)=>T(x,y,`{n|${t}}{u|+}`,31,{rich:big});
const val=(x,y,t)=>T(x,y,`{n|${t}}`,25,{rich:supSub});
const kj=(x,y)=>T(x,y,'{n|kJ mol}{u|−1}',25,{rich:supSub});
const arrow=(pts,head)=>[
  {type:'polyline',silent:true,z:10,shape:{points:pts},style:{stroke:'#000',fill:'none',lineWidth:7,lineCap:'round',lineJoin:'round'}},
  {type:'polyline',silent:true,z:10,shape:{points:head},style:{stroke:'#000',fill:'none',lineWidth:9,lineCap:'round',lineJoin:'miter'}}];
const ddRich={n:{fontSize:38,fontFamily:LT,color:'#000',lineHeight:46},i:{fontSize:38,fontFamily:LT,fontStyle:'italic',color:'#000',lineHeight:46},s:{fontSize:26,fontFamily:LT,color:'#000',verticalAlign:'bottom',lineHeight:54},u:{fontSize:24,fontFamily:LT,color:'#000',verticalAlign:'top',lineHeight:46}};
const graphic=[
  T(28,28,'A',64),T(1115,28,'B',66),T(30,600,'C',64),T(30,1169,'D',64),T(598,1169,'E',64),T(1057,1169,'F',64),T(1522,1169,'G',64),
  nameT(1287,33,'A1-LCD Y:R'),val(1287,67,'-16.9±0.2'),kj(1296,97),
  nameT(1788,33,'A1-LCD Y:K'),val(1789,67,'-11.5±0.1'),kj(1796,97),
  nameT(1288,427,'A1-LCD F:R'),val(1288,460,'-16.0±0.1'),kj(1294,490),
  nameT(1789,427,'A1-LCD F:K'),val(1788,460,'-10.3±0.1'),kj(1799,490),
  rT(1547,98,'{n|Δ}{i|G}{s|R→K,Y}{n|=-5.3±0.3 kJ mol}{u|−1}'),
  rT(1445,220,'{n|Δ}{i|G}{s|Y→F,R}{n|=-0.9±0.3 kJ mol}{u|−1}'),
  rT(1634,281,'{n|Δ}{i|G}{s|Y→F,K}{n|=-1.3±0.1 kJ mol}{u|−1}'),
  rT(1539,411,'{n|Δ}{i|G}{s|R→K,F}{n|=-5.7±0.2 kJ mol}{u|−1}'),
  T(1541,540,'{n|ΔΔ}{i|G}{s|int.}{n|= 0.4±0.3 kJ mol}{u|−1}',38,{rich:ddRich}),
  ...arrow([[1392,52],[1692,52]],[[1656,33],[1692,52],[1656,71]]),
  ...arrow([[1392,460],[1692,460]],[[1656,441],[1692,460],[1656,479]]),
  ...arrow([[1288,115],[1288,396]],[[1268,357],[1288,396],[1308,357]]),
  ...arrow([[1789,115],[1789,396]],[[1769,357],[1789,396],[1809,357]])
];

const NB='\u00a0';
const legendPad={[SERIES_NAMES[0]]:3,[SERIES_NAMES[1]]:4,[SERIES_NAMES[2]]:4,[SERIES_NAMES[3]]:4};
const legText=(l)=>({fontSize:21,fontFamily:DV,color:'#000',padding:[0,0,0,l]});
const legendList=[
 {show:true,left:351,top:462,selectedMode:false,orient:'horizontal',itemWidth:41,itemHeight:1,itemGap:46,
  padding:[9,11,9,8],borderColor:'#333',borderWidth:2,borderRadius:5,backgroundColor:'#fff',
  data:['Mut. Y → F','Mut. R → K'],textStyle:legText(14),
  itemStyle:{opacity:0},lineStyle:{width:5,type:[5,8]}},
 {show:true,left:364,top:1061,selectedMode:false,orient:'horizontal',itemWidth:47,itemHeight:1,itemGap:36,
  padding:[8,19,8,19],borderColor:'#333',borderWidth:2,borderRadius:5,backgroundColor:'#fff',
  itemStyle:{opacity:0},
  formatter:n=>n+NB.repeat(legendPad[n]||0),
  data:[{name:SERIES_NAMES[0],lineStyle:{width:3},textStyle:legText(25)},{name:SERIES_NAMES[1],lineStyle:{width:3},textStyle:legText(17)},{name:SERIES_NAMES[2],lineStyle:{width:3},textStyle:legText(17)},{name:SERIES_NAMES[3],lineStyle:{width:3},textStyle:legText(17)},{name:'Y → A',textStyle:legText(17)},{name:'R → K',textStyle:legText(17)}],
  textStyle:legText(17)}
];

const option={animation:false,backgroundColor:'#fff',textStyle:{fontFamily:DV},
  title,grid,xAxis,yAxis,series,legend:legendList,graphic,
  visualMap:{type:'continuous',min:CBAR_MIN,max:CBAR_MAX,seriesIndex:hmSeries,orient:'horizontal',left:451,top:1626,padding:0,
    itemWidth:16,itemHeight:1149,text:null,showLabel:false,calculable:false,realtime:false,hoverLink:false,
    inRange:{color:['#0000ff','#ffffff','#ff0000']},textStyle:{fontSize:0}}
};
const chart=echarts.init(document.getElementById('c'),null,{renderer:'canvas',width:2000,height:1713});
chart.setOption(option);
</script></body></html>
